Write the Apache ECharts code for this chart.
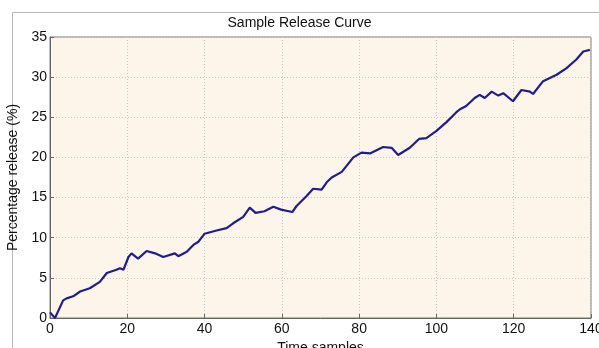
<!DOCTYPE html>
<html>
<head>
<meta charset="utf-8">
<script src="https://cdn.jsdelivr.net/npm/echarts@6/dist/echarts.min.js"></script>
<style>html,body{margin:0;padding:0;background:#fff;}#c{width:599px;height:348px;}</style>
</head>
<body>
<div id="c"></div>
<script>
const titleText = "Sample Release Curve";
const xName = "Time samples";
const yName = "Percentage release (%)";
const timeSamples = [0,1.3,3.4,4.3,6,7.8,10.3,12.9,14.7,17.2,18.1,19,20.3,21.1,22.8,25,27.2,29.3,32.3,33.2,35.4,37.1,38.4,40,43.1,45.7,47.4,50,51.7,53.2,55.5,57.8,59.8,62.7,63.8,66.4,68.1,70.3,71.6,72.9,75.5,78.5,80.6,82.8,86.2,88.4,90.1,93.1,95.5,97.4,100,102.6,105.1,106.1,107.7,109.9,111.2,112.5,114.3,116,117.3,119.8,122,124.2,125,127.6,131.1,133.6,136.2,138,139.7];
const releasePct = [0.7,0.0,2.2,2.45,2.7,3.3,3.7,4.5,5.6,6.0,6.2,6.0,7.6,8.05,7.4,8.35,8.05,7.6,8.05,7.7,8.25,9.1,9.5,10.5,10.9,11.2,11.8,12.6,13.75,13.1,13.3,13.85,13.5,13.2,13.95,15.2,16.1,16.0,16.9,17.5,18.2,20.0,20.6,20.5,21.3,21.2,20.3,21.2,22.3,22.4,23.3,24.4,25.6,26.0,26.4,27.4,27.8,27.4,28.2,27.7,28.0,27.0,28.4,28.2,27.9,29.5,30.3,31.1,32.2,33.2,33.4];
const xTicks = [0,20,40,60,80,100,120,140];
const yTicks = [0,5,10,15,20,25,30,35];

const chart = echarts.init(document.getElementById('c'), null, {renderer:'canvas'});
const font = 'Liberation Sans, Arial, sans-serif';
const axisCommon = {
  axisLine:{show:true, lineStyle:{color:'#666', width:1}},
  axisTick:{show:true, inside:true, length:4, lineStyle:{color:'#666'}},
  splitLine:{show:true, lineStyle:{color:'#c8c8c8', type:[1,2], width:1}}
};
chart.setOption({
  animation:false,
  backgroundColor:'#fff',
  graphic:[
    {type:'rect', shape:{x:12.5,y:12.5,width:700,height:500}, style:{fill:'none', stroke:'#b8b8b8', lineWidth:1}, z:-10},
    {type:'text', left:'center', top:16, style:{text:titleText, font:'14px ' + font, fill:'#111'}}
  ],
  grid:{left:50, right:8, top:37, bottom:30, containLabel:false, outerBoundsMode:'none',
    show:true, backgroundColor:'#fdf5ea', borderColor:'#777', borderWidth:1},
  xAxis:{
    type:'value', min:xTicks[0], max:xTicks[xTicks.length-1], interval:20,
    name:xName, nameLocation:'middle', nameGap:18,
    nameTextStyle:{fontFamily:font, fontSize:14, color:'#111'},
    axisLabel:{fontFamily:font, fontSize:14, color:'#111', margin:4,
      formatter:v=>xTicks.includes(v)?String(v):''},
    ...axisCommon
  },
  yAxis:{
    type:'value', min:yTicks[0], max:yTicks[yTicks.length-1], interval:5,
    name:yName, nameLocation:'middle', nameGap:21,
    nameTextStyle:{fontFamily:font, fontSize:14, color:'#111'},
    axisLabel:{fontFamily:font, fontSize:14, color:'#111', margin:3,
      formatter:v=>yTicks.includes(v)?String(v):''},
    ...axisCommon
  },
  series:[{
    type:'line',
    data:timeSamples.map((t,i)=>[t, releasePct[i]]),
    showSymbol:false, smooth:false,
    lineStyle:{color:'#1e1e90', width:2.2},
    z:5
  }]
});
</script>
</body>
</html>
